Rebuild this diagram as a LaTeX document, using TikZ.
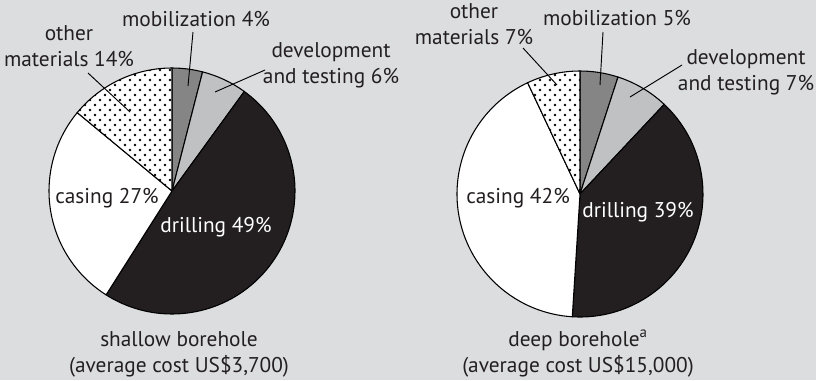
\documentclass[tikz,border=0pt]{standalone}
\usepackage{fontspec}
\setmainfont{PT Sans}
\usetikzlibrary{patterns}
\pgfdeclarepatternformonly{piedots}{\pgfqpoint{-1.875pt}{-1.875pt}}{\pgfqpoint{5.625pt}{5.625pt}}{\pgfqpoint{7.5pt}{7.5pt}}{%
  \pgfpathcircle{\pgfqpoint{0pt}{0pt}}{1.1pt}%
  \pgfpathcircle{\pgfqpoint{3.75pt}{3.75pt}}{1.1pt}%
  \pgfusepath{fill}}
\definecolor{bg}{HTML}{DCDDDF}
\definecolor{mobgray}{HTML}{858585}
\definecolor{devgray}{HTML}{C0C1C3}
\definecolor{drillblack}{HTML}{231F20}
\tikzset{
  slice/.style={draw=black, line width=0.8pt, line join=round},
  lbl/.style={font=\fontsize{16}{19.5}\selectfont, text=drillblack, inner sep=0pt, align=center, anchor=base},
  wlbl/.style={lbl, text=white},
  leader/.style={draw=black, line width=0.7pt},
}
\newcommand{\pieslice}[6]{% cx cy r a1 a2 style
  \path[#6] (#1,#2) -- ++(#4:#3) arc[start angle=#4, end angle=#5, radius=#3] -- cycle;}
\newcommand{\dotslice}[5]{%
  \fill[white] (#1,#2) -- ++(#4:#3) arc[start angle=#4, end angle=#5, radius=#3] -- cycle;
  \fill[pattern=piedots, pattern color=black] (#1,#2) -- ++(#4:#3) arc[start angle=#4, end angle=#5, radius=#3] -- cycle;
  \draw[slice] (#1,#2) -- ++(#4:#3) arc[start angle=#4, end angle=#5, radius=#3] -- cycle;}
\begin{document}
\begin{tikzpicture}[x=0.75pt, y=-0.75pt]
\fill[bg] (0,0) rectangle (816,380);
\useasboundingbox (0,0) rectangle (816,380);
% ---------- left pie ----------
\pieslice{172}{191}{123}{-90}{-75.6}{slice, fill=mobgray}
\pieslice{172}{191}{123}{-75.6}{-54}{slice, fill=devgray}
\pieslice{172}{191}{123}{-54}{122.4}{slice, fill=drillblack}
\pieslice{172}{191}{123}{122.4}{219.6}{slice, fill=white}
\dotslice{172}{191}{123}{219.6}{270}
\node[lbl] (lmob) at (196,26) {mobilization 4\%};
\node[lbl] (loth) at (69,66) {other\\materials 14\%};
\node[lbl] (ldev) at (331,83) {development\\and testing 6\%};
\node[lbl] (lcas) at (107,203) {casing 27\%};
\node[wlbl] (ldri) at (216,232) {drilling 49\%};
\node[lbl] (lcap) at (179,372) {shallow borehole\\(average cost US\$3,700)};
\coordinate (lmobA) at (193,32); \coordinate (lmobB) at (188,86);
\coordinate (ldevA) at (265,70); \coordinate (ldevB) at (215,92);
\coordinate (lothA) at (88,73);  \coordinate (lothB) at (130,112);
\draw[leader] (lmobA) -- (lmobB);
\draw[leader] (ldevA) -- (ldevB);
\draw[leader] (lothA) -- (lothB);
% ---------- right pie ----------
\pieslice{580}{194}{123}{-90}{-72}{slice, fill=mobgray}
\pieslice{580}{194}{123}{-72}{-46.8}{slice, fill=devgray}
\pieslice{580}{194}{123}{-46.8}{93.6}{slice, fill=drillblack}
\pieslice{580}{194}{123}{93.6}{244.8}{slice, fill=white}
\dotslice{580}{194}{123}{244.8}{270}
\node[lbl] (rmob) at (617,25) {mobilization 5\%};
\node[lbl] (roth) at (474,44) {other\\materials 7\%};
\node[lbl] (rdev) at (746,90) {development\\and testing 7\%};
\node[lbl] (rcas) at (518,203) {casing 42\%};
\node[wlbl] (rdri) at (638,217) {drilling 39\%};
\node[lbl] (rcap) at (578,372) {deep borehole\textsuperscript{a}\\(average cost US\$15,000)};
\coordinate (rmobA) at (603,32); \coordinate (rmobB) at (600,85);
\coordinate (rdevA) at (682,65); \coordinate (rdevB) at (630,97);
\coordinate (rothA) at (523,48); \coordinate (rothB) at (557,85);
\draw[leader] (rmobA) -- (rmobB);
\draw[leader] (rdevA) -- (rdevB);
\draw[leader] (rothA) -- (rothB);
\end{tikzpicture}
\end{document}
